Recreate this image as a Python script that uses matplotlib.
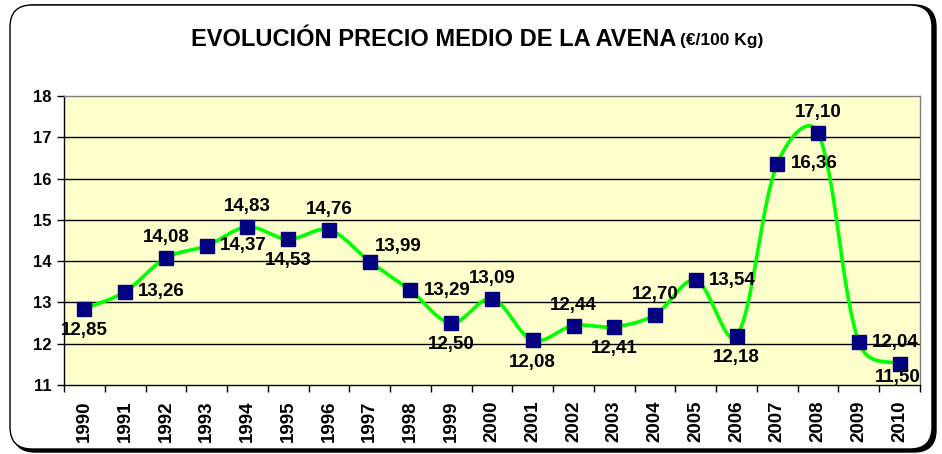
import numpy as np
import matplotlib.pyplot as plt
from matplotlib.patches import FancyBboxPatch

plt.rcParams['font.family'] = ['Liberation Sans', 'DejaVu Sans']

# ---------- Data ----------
years = [str(y) for y in range(1990, 2011)]
precios = [12.85, 13.26, 14.08, 14.37, 14.83, 14.53, 14.76, 13.99, 13.29, 12.50,
           13.09, 12.08, 12.44, 12.41, 12.70, 13.54, 12.18, 16.36, 17.10, 12.04, 11.50]
# where each value label sits relative to its marker
label_pos = ['below', 'right', 'above', 'right', 'above', 'below', 'above', 'upright',
             'right', 'below', 'above', 'below', 'above', 'below', 'above', 'right',
             'below', 'right', 'above', 'right', 'lowinside']

W, H = 942, 454
AX_L, AX_R, AX_T, AX_B = 64, 920, 96, 385   # plot area in pixels
YMIN, YMAX = 11, 18


def smooth_curve(x, y, sx=1.0, sy=1.0, w=0.5, n=40):
    """Bezier smoothing through every point. Handles mix plain Catmull-Rom
    (weight 1-w) with handles scaled by on-screen segment length (weight w)."""
    P = np.column_stack([np.asarray(x, float) * sx, np.asarray(y, float) * sy])
    P = np.vstack([P[0], P, P[-1]])
    t = np.linspace(0, 1, n)[:, None]
    out = []
    for i in range(1, len(P) - 2):
        a, b, c, d = P[i - 1], P[i], P[i + 1], P[i + 2]
        d_ab, d_bc, d_cd = (np.linalg.norm(b - a), np.linalg.norm(c - b), np.linalg.norm(d - c))
        r1 = d_bc / (d_ab + d_bc) if d_ab + d_bc else 0
        r2 = d_bc / (d_bc + d_cd) if d_bc + d_cd else 0
        h1 = (c - a) / 3 * ((1 - w) * 0.5 + w * r1)
        h2 = (d - b) / 3 * ((1 - w) * 0.5 + w * r2)
        p1, p2 = b + h1, c - h2
        seg = (1 - t) ** 3 * b + 3 * (1 - t) ** 2 * t * p1 + 3 * (1 - t) * t ** 2 * p2 + t ** 3 * c
        out.append(seg)
    out = np.vstack(out)
    return out[:, 0] / sx, out[:, 1] / sy


fig = plt.figure(figsize=(W / 100, H / 100), dpi=100)

# rounded frame with a dark drop edge on the right/bottom
bg = fig.add_axes([0, 0, 1, 1], zorder=0)
bg.set_xlim(0, W)
bg.set_ylim(0, H)
bg.axis('off')
bg.add_patch(FancyBboxPatch((13, 2), 923, 447, boxstyle='round,pad=0,rounding_size=22',
                            facecolor='black', edgecolor='black', lw=1))
bg.add_patch(FancyBboxPatch((10, 5), 922, 444, boxstyle='round,pad=0,rounding_size=22',
                            facecolor='white', edgecolor='black', lw=1))

fig.text(676 / W, 1 - 39 / H, 'EVOLUCIÓN PRECIO MEDIO DE LA AVENA', ha='right', va='center',
         fontsize=17, fontweight='bold', zorder=3)
fig.text(680 / W, 1 - 40 / H, '(€/100 Kg)', ha='left', va='center',
         fontsize=12.5, fontweight='bold', zorder=3)

ax = fig.add_axes([AX_L / W, 1 - AX_B / H, (AX_R - AX_L) / W, (AX_B - AX_T) / H], zorder=1)
ax.set_facecolor('#FFFFCC')

x = np.arange(len(years))
ax.set_xlim(-0.5, len(years) - 0.5)
ax.set_ylim(YMIN, YMAX)

for v in range(YMIN + 1, YMAX):
    ax.axhline(v, color='black', lw=1, zorder=1)

px_x = (AX_R - AX_L) / len(years)
px_y = (AX_B - AX_T) / (YMAX - YMIN)
cx, cy = smooth_curve(x, precios, px_x, px_y)
ax.plot(cx, cy, color='#00FF00', lw=2.6, zorder=2, solid_capstyle='round')
ax.plot(x, precios, linestyle='None', marker='s', markersize=10,
        markerfacecolor='#000080', markeredgecolor='#000080', zorder=3, clip_on=False)

offsets = {'above': (0, 8.5, 'center', 'bottom'),
           'below': (0, -9.5, 'center', 'top'),
           'right': (9.5, 0, 'left', 'center'),
           'upright': (4, 5, 'left', 'bottom'),
           'lowinside': (-1, -3, 'center', 'top')}
for xi, v, pos in zip(x, precios, label_pos):
    dx, dy, ha, va = offsets[pos]
    ax.annotate(f'{v:.2f}'.replace('.', ','), (xi, v), xytext=(dx, dy), textcoords='offset points',
                ha=ha, va=va, fontsize=13.5, fontweight='bold', zorder=4, annotation_clip=False)

ax.set_yticks(range(YMIN, YMAX + 1))
ax.set_yticklabels([str(v) for v in range(YMIN, YMAX + 1)], fontsize=12, fontweight='bold')
ax.set_xticks(x)
ax.set_xticklabels(years, rotation=90, fontsize=13.5, fontweight='bold')
ax.set_xticks(np.arange(-0.5, len(years)), minor=True)
ax.tick_params(axis='x', which='major', length=0, pad=11)
ax.tick_params(axis='x', which='minor', length=5, width=1, direction='out')
ax.tick_params(axis='y', length=5, width=1, direction='out', pad=4)

for side in ('left', 'bottom'):
    ax.spines[side].set_color('black')
    ax.spines[side].set_linewidth(1)
for side in ('top', 'right'):
    ax.spines[side].set_color('#808080')
    ax.spines[side].set_linewidth(1)

fig.savefig('out.png', dpi=100)
